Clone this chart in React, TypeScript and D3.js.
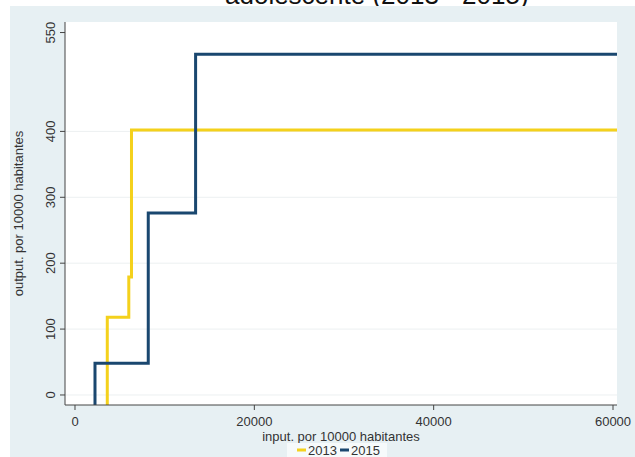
import React from "react";
import * as d3 from "d3";

const title = "adolescente (2013 - 2015)";
const xTicks = [0, 20000, 40000, 60000];
const yTicks = [0, 100, 200, 300, 400, 550];
const gridValues = [0, 100, 200, 300, 400];
const series = ["2013", "2015"];
const x2013 = [3600, 6000, 6300];
const y2013 = [118, 179, 402];
const x2015 = [2230, 8170, 13450];
const y2015 = [48, 276, 517];
const xTitle = "input. por 10000 habitantes";
const yTitle = "output. por 10000 habitantes";

const W = 635, H = 457;
const L = 65, R = 617, T = 22, B = 405;
const colors = { "2013": "#f4d11c", "2015": "#1a476f" };

export default function App() {
  const x = d3.scaleLinear().domain([-1115, 60446]).range([L, R]);
  const y = d3.scaleLinear().domain([-15.2, 566]).range([B, T]);
  const [, xMax] = x.domain();
  const [yMin] = y.domain();

  const mk = (xs: number[], ys: number[]) => {
    const pts: [number, number][] = [[xs[0], yMin]];
    xs.forEach((v, i) => pts.push([v, ys[i]]));
    pts.push([xMax, ys[ys.length - 1]]);
    return d3
      .line<[number, number]>()
      .x((d) => x(d[0]))
      .y((d) => y(d[1]))
      .curve(d3.curveStepAfter)(pts) as string;
  };
  const paths = [
    { key: "2013", d: mk(x2013, y2013) },
    { key: "2015", d: mk(x2015, y2015) },
  ];
  const font = "Liberation Sans, Arial, sans-serif";
  const tc = "#333";

  return (
    <svg
      width={W}
      height={H}
      style={{ position: "absolute", left: 0, top: 0, background: "#fff" }}
      fontFamily={font}
    >
      <defs>
        <clipPath id="plotclip">
          <rect x={L} y={T} width={R - L} height={B - T} />
        </clipPath>
        <clipPath id="titleclip">
          <rect x={0} y={0} width={W} height={6} />
        </clipPath>
      </defs>
      <rect x={0} y={0} width={W} height={H} fill="#fff" />
      <rect x={10} y={6} width={W - 10} height={H - 6} fill="#e7f0f3" />
      <g clipPath="url(#titleclip)">
        <text x={225} y={4} fontSize={26} fill="#111">
          {title}
        </text>
      </g>
      <rect x={L} y={T} width={R - L} height={B - T} fill="#fff" />
      {gridValues.map((g) => (
        <line key={g} x1={L} x2={R} y1={y(g)} y2={y(g)} stroke="#ecf0f1" strokeWidth={1} />
      ))}
      <g clipPath="url(#plotclip)">
        {paths.map((p) => (
          <path key={p.key} d={p.d} fill="none" stroke={(colors as any)[p.key]} strokeWidth={3} strokeLinejoin="miter" />
        ))}
      </g>
      <line x1={L} x2={L} y1={T} y2={B} stroke="#444" strokeWidth={1} />
      <line x1={L} x2={R} y1={B} y2={B} stroke="#444" strokeWidth={1} />
      {yTicks.map((t) => (
        <g key={t}>
          <line x1={L - 5} x2={L} y1={y(t)} y2={y(t)} stroke="#444" />
          <text
            transform={`translate(${L - 10},${y(t)}) rotate(-90)`}
            textAnchor="middle"
            fontSize={13}
            fill={tc}
          >
            {t}
          </text>
        </g>
      ))}
      {xTicks.map((t) => (
        <g key={t}>
          <line x1={x(t)} x2={x(t)} y1={B} y2={B + 5} stroke="#444" />
          <text x={x(t)} y={B + 21} textAnchor="middle" fontSize={13} fill={tc}>
            {t}
          </text>
        </g>
      ))}
      <text x={(L + R) / 2} y={441} textAnchor="middle" fontSize={13} fill={tc}>
        {xTitle}
      </text>
      <text
        transform={`translate(23,${(T + B) / 2}) rotate(-90)`}
        textAnchor="middle"
        fontSize={13}
        fill={tc}
      >
        {yTitle}
      </text>
      <rect x={287} y={443} width={100} height={14} fill="#f6fafb" />
      {series.map((s, i) => {
        const lx = 297 + i * 43;
        return (
          <g key={s}>
            <line x1={lx} x2={lx + 9} y1={450} y2={450} stroke={(colors as any)[s]} strokeWidth={3} />
            <text x={lx + 11} y={455} fontSize={13} fill={tc}>
              {s}
            </text>
          </g>
        );
      })}
    </svg>
  );
}
